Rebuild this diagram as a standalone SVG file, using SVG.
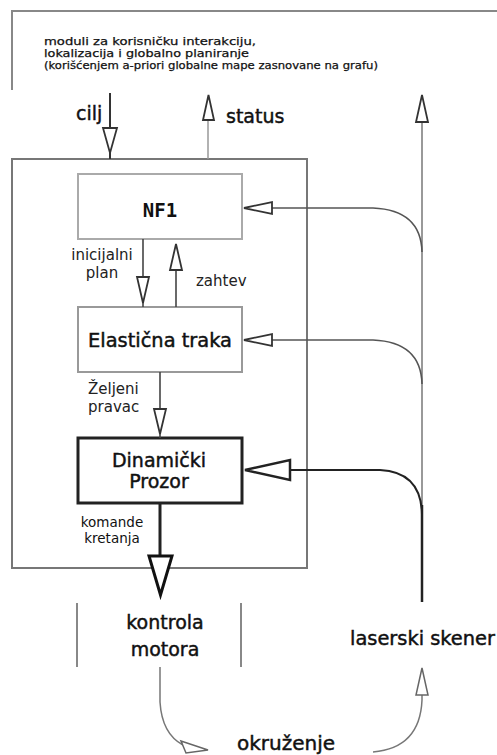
<svg xmlns="http://www.w3.org/2000/svg" width="497" height="755" viewBox="0 0 497 755">
<style>
text{font-family:"DejaVu Sans","Verdana",sans-serif;fill:#111}
.lbl{font-size:15px;fill:#222}
.big{font-size:19px}
.heavy{stroke:#111;stroke-width:0.45}
.head{font-size:10.5px;stroke:#111;stroke-width:0.25}
.box{fill:none;stroke-width:2}
.ah{fill:#fff;stroke:#333;stroke-width:1.8;stroke-linejoin:miter}
.ln{fill:none;stroke:#555;stroke-width:1.6}
</style>
<rect width="497" height="755" fill="#fff"/>

<g id="global-modules">
  <path d="M12,90 V11 H497" fill="none" stroke="#888" stroke-width="2"/>
  <text class="head" x="44" y="45" textLength="212" lengthAdjust="spacingAndGlyphs">moduli za korisničku interakciju,</text>
  <text class="head" x="44" y="57" textLength="205" lengthAdjust="spacingAndGlyphs">lokalizacija i globalno planiranje</text>
  <text class="head" x="44" y="69" textLength="334" lengthAdjust="spacingAndGlyphs">(korišćenjem a-priori globalne mape zasnovane na grafu)</text>
</g>

<g id="main-frame">
  <rect class="box" x="12" y="159" width="295" height="409" stroke="#777"/>
</g>

<g id="nf1">
  <rect class="box" x="78" y="174" width="164" height="65" stroke="#aaa"/>
  <text x="160" y="217" text-anchor="middle" style="font-family:'DejaVu Sans Mono',monospace;font-size:19px;font-weight:bold">NF1</text>
</g>

<g id="elasticna-traka">
  <rect class="box" x="78" y="307" width="164" height="65" stroke="#999"/>
  <text class="big heavy" x="160" y="347" text-anchor="middle" textLength="144" lengthAdjust="spacingAndGlyphs">Elastična traka</text>
</g>

<g id="dinamicki-prozor">
  <rect x="78" y="438" width="164" height="65" fill="none" stroke="#222" stroke-width="3"/>
  <text class="big heavy" x="159" y="467" text-anchor="middle">Dinamički</text>
  <text class="big heavy" x="159" y="488" text-anchor="middle">Prozor</text>
</g>

<g id="kontrola-motora">
  <line x1="77" y1="603" x2="77" y2="667" stroke="#888" stroke-width="2"/>
  <line x1="241" y1="603" x2="241" y2="667" stroke="#888" stroke-width="2"/>
  <text class="big heavy" x="165" y="629" text-anchor="middle">kontrola</text>
  <text class="big heavy" x="165" y="656" text-anchor="middle">motora</text>
</g>

<g id="laserski-skener">
  <text class="big heavy" x="350" y="645" textLength="145" lengthAdjust="spacingAndGlyphs">laserski skener</text>
</g>

<g id="okruzenje">
  <text class="heavy" x="237" y="750" style="font-size:20px">okruženje</text>
</g>

<g id="connectors">
  <!-- cilj -->
  <line x1="110" y1="93" x2="110" y2="159" stroke="#333" stroke-width="2"/>
  <polygon class="ah" points="103,128 117,128 110,153"/>
  <text class="big heavy" x="76" y="120">cilj</text>
  <!-- status -->
  <line x1="208" y1="159" x2="208" y2="118" stroke="#999" stroke-width="1.5"/>
  <polygon class="ah" points="203,120 214,120 208.5,95"/>
  <text class="big heavy" x="226" y="123">status</text>

  <!-- main right vertical -->
  <line x1="422" y1="120" x2="422" y2="515" stroke="#777" stroke-width="1.5"/>
  <polygon class="ah" points="416,122 428,122 422,95"/>
  <line x1="422" y1="505" x2="422" y2="602" stroke="#222" stroke-width="2.5"/>

  <!-- feedback to NF1 -->
  <path class="ln" d="M272,208 H373 Q421,210 422,252"/>
  <polygon class="ah" points="244,208 272,202 272,214"/>
  <!-- feedback to Elasticna traka -->
  <path class="ln" d="M272,340 H373 Q421,342 422,384"/>
  <polygon class="ah" points="244,340 272,334 272,346"/>
  <!-- feedback to Dinamicki prozor -->
  <path d="M290,470 H380 Q421,472 422,514" fill="none" stroke="#222" stroke-width="2"/>
  <polygon points="245,470 290,460 290,480" fill="#fff" stroke="#222" stroke-width="2.5"/>

  <!-- NF1 -> ET : inicijalni plan -->
  <line x1="143" y1="239" x2="143" y2="307" stroke="#444" stroke-width="1.6"/>
  <polygon class="ah" points="137,277 149,277 143,303"/>
  <text class="lbl" x="102" y="260" text-anchor="middle">inicijalni</text>
  <text class="lbl" x="102" y="278" text-anchor="middle">plan</text>

  <!-- ET -> NF1 : zahtev -->
  <line x1="176" y1="307" x2="176" y2="268" stroke="#444" stroke-width="1.6"/>
  <polygon class="ah" points="170,270 182,270 176,244"/>
  <text class="lbl" x="196" y="286">zahtev</text>

  <!-- ET -> DP : Zeljeni pravac -->
  <line x1="160" y1="372" x2="160" y2="438" stroke="#444" stroke-width="1.6"/>
  <polygon class="ah" points="154,409 166,409 160,434"/>
  <text class="lbl" x="88" y="394">Željeni</text>
  <text class="lbl" x="88" y="412">pravac</text>

  <!-- DP -> kontrola motora : komande kretanja -->
  <line x1="160" y1="503" x2="160" y2="556" stroke="#222" stroke-width="3"/>
  <polygon points="149,556 172,556 160.5,595" fill="#fff" stroke="#111" stroke-width="3"/>
  <text x="112" y="527" text-anchor="middle" style="font-size:13.5px">komande</text>
  <text x="112" y="543" text-anchor="middle" style="font-size:13.5px">kretanja</text>

  <!-- kontrola motora -> okruzenje -->
  <path d="M160,667 V702 Q162,734 183,745" fill="none" stroke="#777" stroke-width="1.5"/>
  <polygon points="181,741 186,753 208,750" fill="#fff" stroke="#666" stroke-width="1.5"/>

  <!-- okruzenje -> laserski skener -->
  <path d="M373,752 Q420,748 422,700 V694" fill="none" stroke="#777" stroke-width="1.5"/>
  <polygon points="416,695 428,695 422,668" fill="#fff" stroke="#666" stroke-width="1.5"/>
</g>
</svg>
